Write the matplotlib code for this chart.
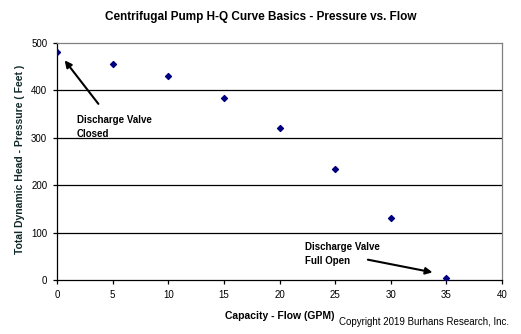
import matplotlib
matplotlib.use("Agg")
import matplotlib.pyplot as plt

plt.rcParams['font.family'] = ['Liberation Sans', 'DejaVu Sans']

flow_gpm = [0, 5, 10, 15, 20, 25, 30, 35]
head_ft = [480, 455, 430, 385, 320, 235, 130, 5]
x_ticks = [0, 5, 10, 15, 20, 25, 30, 35, 40]
y_ticks = [0, 100, 200, 300, 400, 500]

fig = plt.figure(figsize=(5.21, 3.34), dpi=100)
ax = fig.add_axes([57/521, 1 - 280/334, 445/521, 237/334])

for y in y_ticks[1:-1]:
    ax.axhline(y, color='black', lw=0.9, zorder=1)

ax.scatter(flow_gpm, head_ft, marker='D', s=9, color='#000080', zorder=3)

ax.set_xlim(0, 40)
ax.set_ylim(0, 500)
ax.set_xticks(x_ticks)
ax.set_yticks(y_ticks)
ax.tick_params(axis='both', direction='out', length=3, width=0.9, labelsize=7, pad=4)
for s in ('top', 'right'):
    ax.spines[s].set_color('#808080')
    ax.spines[s].set_linewidth(0.9)
for s in ('left', 'bottom'):
    ax.spines[s].set_color('black')
    ax.spines[s].set_linewidth(0.9)

ax.set_xlabel('Capacity - Flow (GPM)', fontsize=7.5, fontweight='bold', labelpad=8)
fig.text(20/521, 1 - 159/334, 'Total Dynamic Head - Pressure ( Feet )',
         rotation=90, ha='center', va='center', fontsize=7.5, fontweight='bold',
         color='#102828')
fig.text(261/521, 1 - 17/334, 'Centrifugal Pump H-Q Curve Basics - Pressure vs. Flow',
         ha='center', va='center', fontsize=8.5, fontweight='bold')

ax.annotate('', xy=(0.54, 468), xytext=(3.87, 367),
            arrowprops=dict(arrowstyle='-|>', color='black', lw=1.5, mutation_scale=10))
ax.text(1.8, 348, 'Discharge Valve\nClosed', fontsize=7, fontweight='bold',
        va='top', ha='left', linespacing=1.5)
ax.annotate('', xy=(34.0, 15), xytext=(27.7, 44),
            arrowprops=dict(arrowstyle='-|>', color='black', lw=1.5, mutation_scale=10))
ax.text(22.3, 80, 'Discharge Valve\nFull Open', fontsize=7, fontweight='bold',
        va='top', ha='left', linespacing=1.5)

fig.text(509/521, 1 - 322/334, 'Copyright 2019 Burhans Research, Inc.',
         ha='right', va='center', fontsize=7)

fig.savefig('out.png', dpi=100)
